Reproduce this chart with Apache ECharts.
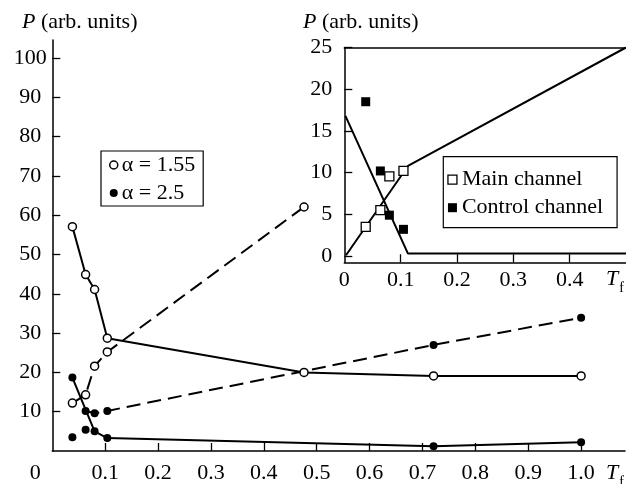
<!DOCTYPE html>
<html>
<head>
<meta charset="utf-8">
<script src="https://cdn.jsdelivr.net/npm/echarts@6/dist/echarts.min.js"></script>
<style>
html, body { margin: 0; padding: 0; background: #fff; }
#chart { width: 626px; height: 484px; }
</style>
</head>
<body>
<div id="chart"></div>
<script>
// main plot, T_f vs P
var a155Solid = [[0.038, 57.1], [0.063, 44.9], [0.080, 41.1], [0.104, 28.7], [0.476, 20.0], [0.721, 19.1], [1.0, 19.1]];
var a155Dash = [[0.038, 12.2], [0.063, 14.3], [0.080, 21.6], [0.104, 25.2], [0.476, 62.1]];
var a25Solid = [[0.038, 18.7], [0.080, 5.0], [0.104, 3.3], [0.721, 1.2], [1.0, 2.2]];
var a25Dash = [[0.063, 10.2], [0.080, 9.6], [0.104, 10.2], [0.721, 27.0], [1.0, 33.9]];
var a25Extra = [[0.038, 3.5], [0.063, 5.4]];

var mainXTicks = [0.1, 0.2, 0.3, 0.4, 0.5, 0.6, 0.7, 0.8, 0.9, 1.0];
var mainXLabels = [0, 0.1, 0.2, 0.3, 0.4, 0.5, 0.6, 0.7, 0.8, 0.9, 1.0];
var mainYTicks = [10, 20, 30, 40, 50, 60, 70, 80, 90, 100];

// inset
var mainChannel = [[0.038, 3.5], [0.064, 5.5], [0.080, 9.55], [0.105, 10.2]];
var controlChannel = [[0.038, 18.5], [0.064, 10.2], [0.080, 4.9], [0.105, 3.2]];
var mainFit = [[0.003, 0.1], [0.113, 10.8], [0.5, 25]];
var controlFit = [[0.002, 16.8], [0.113, 0.3], [0.5, 0.3]];

var insetXTicks = [0.1, 0.2, 0.3, 0.4];
var insetXLabels = [0, 0.1, 0.2, 0.3, 0.4];
var insetYTicks = [0, 5, 10, 15, 20, 25];

var FONT = 'Liberation Serif';
var black = '#000';
var TICKSIZE = 22;

function fmt1(v) {
	if (Math.abs(v) < 1e-9) return '0';
	return v.toFixed(1);
}

var chart = echarts.init(document.getElementById('chart'), null, { renderer: 'canvas' });

function tfText(x, y) {
	return {
		type: 'text', left: x, top: y,
		style: {
			text: '{i|T}{s|f}', fill: black,
			rich: {
				i: { fontFamily: FONT, fontSize: 22, fontStyle: 'italic', lineHeight: 26, verticalAlign: 'top', fill: black },
				s: { fontFamily: FONT, fontSize: 14, lineHeight: 14, verticalAlign: 'top', padding: [13, 0, 0, 1], fill: black }
			}
		}
	};
}

function pText(x, y) {
	return {
		type: 'text', left: x, top: y,
		style: {
			text: '{i|P} (arb. units)', fill: black,
			fontFamily: FONT, fontSize: 22,
			rich: { i: { fontFamily: FONT, fontSize: 22, fontStyle: 'italic', fill: black } }
		}
	};
}

var option = {
	animation: false,
	backgroundColor: '#fff',
	grid: [
		{ left: 52.3, top: 40, right: 1, bottom: 32 },
		{ left: 344.3, top: 47.5, right: 0, bottom: 221.7 }
	],
	xAxis: [
		{
			gridIndex: 0, type: 'value', min: 0, max: 1.083,
			splitLine: { show: false },
			axisLine: { lineStyle: { color: black, width: 1.5 } },
			axisTick: { inside: true, length: 8, customValues: mainXTicks, lineStyle: { color: black, width: 1.3 } },
			axisLabel: {
				customValues: mainXLabels, margin: 11,
				fontFamily: FONT, fontSize: TICKSIZE, color: black,
				formatter: function (v) {
					if (Math.abs(v) < 1e-9) return '{o|0}';
					return fmt1(v);
				},
				rich: { o: { fontFamily: FONT, fontSize: TICKSIZE, color: black, padding: [0, 34, 0, 0] } }
			}
		},
		{
			gridIndex: 1, type: 'value', min: 0, max: 0.5,
			splitLine: { show: false },
			axisLine: { onZero: false, lineStyle: { color: black, width: 1.5 } },
			axisTick: { inside: true, length: 8, customValues: insetXTicks, lineStyle: { color: black, width: 1.3 } },
			axisLabel: { customValues: insetXLabels, margin: 7, fontFamily: FONT, fontSize: TICKSIZE, color: black, formatter: fmt1 }
		},
		{
			// top edge of the inset frame
			gridIndex: 1, type: 'value', position: 'top', min: 0, max: 0.5,
			splitLine: { show: false },
			axisLine: { onZero: false, lineStyle: { color: black, width: 1.5 } },
			axisTick: { show: false },
			axisLabel: { show: false }
		}
	],
	yAxis: [
		{
			gridIndex: 0, type: 'value', min: 0, max: 104.6,
			splitLine: { show: false },
			axisLine: { lineStyle: { color: black, width: 1.5 } },
			axisTick: { inside: true, length: 8, customValues: mainYTicks, lineStyle: { color: black, width: 1.3 } },
			axisLabel: { customValues: mainYTicks, margin: 22, align: 'center', fontFamily: FONT, fontSize: TICKSIZE, color: black }
		},
		{
			gridIndex: 1, type: 'value', min: -0.75, max: 25,
			splitLine: { show: false },
			axisLine: { onZero: false, lineStyle: { color: black, width: 1.5 } },
			axisTick: { inside: true, length: 8, customValues: insetYTicks, lineStyle: { color: black, width: 1.3 } },
			axisLabel: { customValues: insetYTicks, margin: 12, fontFamily: FONT, fontSize: TICKSIZE, color: black }
		}
	],
	legend: [
		{
			data: [
				{ name: 'α = 1.55', icon: 'circle', itemStyle: { color: '#fff', borderColor: black, borderWidth: 1.5 } },
				{ name: 'α = 2.5', icon: 'circle', itemStyle: { color: black, borderWidth: 0 } }
			],
			left: 101, top: 151, orient: 'vertical',
			itemWidth: 8, itemHeight: 8, itemGap: 6,
			padding: [3, 8, 2, 8],
			borderColor: black, borderWidth: 1.2,
			selectedMode: false,
			textStyle: { fontFamily: FONT, fontSize: 22, color: black, padding: [0, 0, 0, -1] }
		},
		{
			data: [
				{ name: 'Main channel', icon: 'rect', itemStyle: { color: '#fff', borderColor: black, borderWidth: 1.3 } },
				{ name: 'Control channel', icon: 'rect', itemStyle: { color: black, borderWidth: 0 } }
			],
			left: 443.3, top: 156.7, orient: 'vertical',
			itemWidth: 9, itemHeight: 9, itemGap: 6,
			padding: [12, 14, 9, 4],
			backgroundColor: '#fff',
			borderColor: black, borderWidth: 1.2,
			selectedMode: false,
			textStyle: { fontFamily: FONT, fontSize: 22, color: black }
		}
	],
	series: [
		{
			name: 'α = 1.55', type: 'line', xAxisIndex: 0, yAxisIndex: 0, data: a155Solid,
			symbol: 'circle', symbolSize: 8, z: 3,
			lineStyle: { color: black, width: 2 },
			itemStyle: { color: '#fff', borderColor: black, borderWidth: 1.5 }
		},
		{
			name: 'α = 1.55 dashed', type: 'line', xAxisIndex: 0, yAxisIndex: 0, data: a155Dash,
			symbol: 'circle', symbolSize: 8, z: 3,
			lineStyle: { color: black, width: 2, type: [14, 7] },
			itemStyle: { color: '#fff', borderColor: black, borderWidth: 1.5 }
		},
		{
			name: 'α = 2.5', type: 'line', xAxisIndex: 0, yAxisIndex: 0, data: a25Solid,
			symbol: 'circle', symbolSize: 8, z: 3,
			lineStyle: { color: black, width: 2 },
			itemStyle: { color: black, borderWidth: 0 }
		},
		{
			name: 'α = 2.5 dashed', type: 'line', xAxisIndex: 0, yAxisIndex: 0, data: a25Dash,
			symbol: 'circle', symbolSize: 8, z: 3,
			lineStyle: { color: black, width: 2, type: [14, 7] },
			itemStyle: { color: black, borderWidth: 0 }
		},
		{
			name: 'α = 2.5 points', type: 'scatter', xAxisIndex: 0, yAxisIndex: 0, data: a25Extra,
			symbol: 'circle', symbolSize: 8, z: 3,
			itemStyle: { color: black, opacity: 1 }
		},
		{
			name: 'Main fit', type: 'line', xAxisIndex: 1, yAxisIndex: 1, data: mainFit,
			showSymbol: false, symbol: 'none',
			lineStyle: { color: black, width: 2 }
		},
		{
			name: 'Control fit', type: 'line', xAxisIndex: 1, yAxisIndex: 1, data: controlFit,
			showSymbol: false, symbol: 'none',
			lineStyle: { color: black, width: 2 }
		},
		{
			name: 'Main channel', type: 'scatter', xAxisIndex: 1, yAxisIndex: 1, data: mainChannel,
			symbol: 'rect', symbolSize: 9, z: 4,
			itemStyle: { color: '#fff', borderColor: black, borderWidth: 1.3, opacity: 1 }
		},
		{
			name: 'Control channel', type: 'scatter', xAxisIndex: 1, yAxisIndex: 1, data: controlChannel,
			symbol: 'rect', symbolSize: 9, z: 4,
			itemStyle: { color: black, opacity: 1 }
		}
	],
	graphic: [
		pText(22, 11),
		pText(303, 11),
		tfText(606, 462),
		tfText(606, 268)
	]
};

chart.setOption(option);
</script>
</body>
</html>
